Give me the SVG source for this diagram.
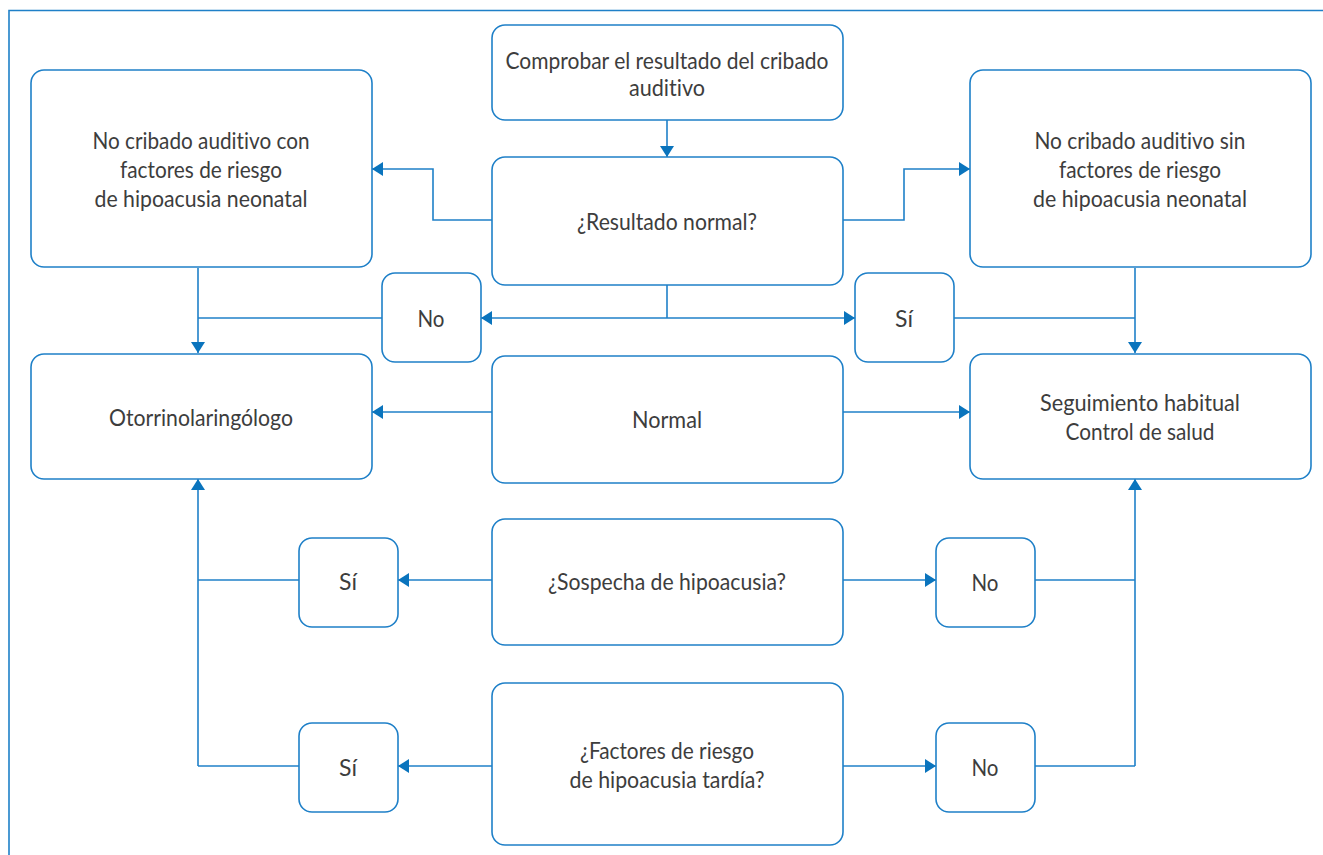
<svg xmlns="http://www.w3.org/2000/svg" width="1323" height="855" viewBox="0 0 1323 855">
<style>
.box{fill:#fff;stroke:#1f80c8;stroke-width:1.6}
.t{font-family:Lato,"Open Sans","Liberation Sans",sans-serif;font-size:23px;font-weight:400;fill:#3d3d3d;text-anchor:middle;font-variant-ligatures:none;font-feature-settings:"liga" 0}
.c{fill:none;stroke:#1f80c8;stroke-width:1.6}
.frame{fill:none;stroke:#1f80c8;stroke-width:1.6}
</style>
<defs>
<marker id="ah" markerUnits="userSpaceOnUse" markerWidth="12" markerHeight="14" viewBox="0 0 12 14" refX="11" refY="7" orient="auto">
<path d="M0,0 L11,7 L0,14 Z" fill="#0a74bd"/>
</marker>
</defs>
<g id="frame"><path class="frame" d="M9,855 V10.5 H1323"/></g>
<g id="connectors">
<path class="c" d="M667,120 V157" marker-end="url(#ah)"/>
<path class="c" d="M492,220 H433 V169 H372" marker-end="url(#ah)"/>
<path class="c" d="M843,220 H904 V169 H970" marker-end="url(#ah)"/>
<path class="c" d="M667,285 V318"/>
<path class="c" d="M667,318 H481" marker-end="url(#ah)"/>
<path class="c" d="M667,318 H855" marker-end="url(#ah)"/>
<path class="c" d="M382,318 H198"/>
<path class="c" d="M198,268 V353" marker-end="url(#ah)"/>
<path class="c" d="M954,318 H1135"/>
<path class="c" d="M1135,268 V353" marker-end="url(#ah)"/>
<path class="c" d="M492,412 H372" marker-end="url(#ah)"/>
<path class="c" d="M843,412 H970" marker-end="url(#ah)"/>
<path class="c" d="M492,580 H398" marker-end="url(#ah)"/>
<path class="c" d="M299,580 H198"/>
<path class="c" d="M198,766 V479" marker-end="url(#ah)"/>
<path class="c" d="M843,580 H936" marker-end="url(#ah)"/>
<path class="c" d="M1035,580 H1135"/>
<path class="c" d="M1135,766 V479" marker-end="url(#ah)"/>
<path class="c" d="M492,766 H398" marker-end="url(#ah)"/>
<path class="c" d="M299,766 H198"/>
<path class="c" d="M843,766 H936" marker-end="url(#ah)"/>
<path class="c" d="M1035,766 H1135"/>
</g>
<g id="n-comprobar"><rect class="box" x="492" y="25" width="351" height="95" rx="13"/>
<text class="t" x="667" y="69" textLength="323" lengthAdjust="spacingAndGlyphs">Comprobar el resultado del cribado</text>
<text class="t" x="667" y="96" textLength="76" lengthAdjust="spacingAndGlyphs">auditivo</text></g>
<g id="n-con"><rect class="box" x="31" y="70" width="341" height="197" rx="13"/>
<text class="t" x="201" y="149" textLength="217" lengthAdjust="spacingAndGlyphs">No cribado auditivo con</text>
<text class="t" x="201" y="178" textLength="162" lengthAdjust="spacingAndGlyphs">factores de riesgo</text>
<text class="t" x="201" y="207" textLength="213" lengthAdjust="spacingAndGlyphs">de hipoacusia neonatal</text></g>
<g id="n-sin"><rect class="box" x="970" y="70" width="341" height="197" rx="13"/>
<text class="t" x="1140" y="149" textLength="211" lengthAdjust="spacingAndGlyphs">No cribado auditivo sin</text>
<text class="t" x="1140" y="178" textLength="162" lengthAdjust="spacingAndGlyphs">factores de riesgo</text>
<text class="t" x="1140" y="207" textLength="214" lengthAdjust="spacingAndGlyphs">de hipoacusia neonatal</text></g>
<g id="n-resultado"><rect class="box" x="492" y="157" width="351" height="128" rx="13"/>
<text class="t" x="667" y="230" textLength="180" lengthAdjust="spacingAndGlyphs">¿Resultado normal?</text></g>
<g id="n-no1"><rect class="box" x="382" y="273" width="99" height="89" rx="13"/>
<text class="t" x="431" y="327" textLength="27" lengthAdjust="spacingAndGlyphs">No</text></g>
<g id="n-si1"><rect class="box" x="855" y="273" width="99" height="89" rx="13"/>
<text class="t" x="904" y="327">Sí</text></g>
<g id="n-otorrino"><rect class="box" x="31" y="354" width="341" height="125" rx="13"/>
<text class="t" x="201" y="426" textLength="184" lengthAdjust="spacingAndGlyphs">Otorrinolaringólogo</text></g>
<g id="n-normal"><rect class="box" x="492" y="356" width="351" height="127" rx="13"/>
<text class="t" x="667" y="428" textLength="70" lengthAdjust="spacingAndGlyphs">Normal</text></g>
<g id="n-seguimiento"><rect class="box" x="970" y="354" width="341" height="125" rx="13"/>
<text class="t" x="1140" y="411" textLength="200" lengthAdjust="spacingAndGlyphs">Seguimiento habitual</text>
<text class="t" x="1140" y="440" textLength="149" lengthAdjust="spacingAndGlyphs">Control de salud</text></g>
<g id="n-sospecha"><rect class="box" x="492" y="519" width="351" height="126" rx="13"/>
<text class="t" x="667" y="590" textLength="238" lengthAdjust="spacingAndGlyphs">¿Sospecha de hipoacusia?</text></g>
<g id="n-si2"><rect class="box" x="299" y="538" width="99" height="89" rx="13"/>
<text class="t" x="348" y="590">Sí</text></g>
<g id="n-no2"><rect class="box" x="936" y="538" width="99" height="89" rx="13"/>
<text class="t" x="985" y="591" textLength="27" lengthAdjust="spacingAndGlyphs">No</text></g>
<g id="n-factores"><rect class="box" x="492" y="683" width="351" height="162" rx="13"/>
<text class="t" x="667" y="759" textLength="174" lengthAdjust="spacingAndGlyphs">¿Factores de riesgo</text>
<text class="t" x="667" y="788" textLength="195" lengthAdjust="spacingAndGlyphs">de hipoacusia tardía?</text></g>
<g id="n-si3"><rect class="box" x="299" y="723" width="99" height="89" rx="13"/>
<text class="t" x="348" y="776">Sí</text></g>
<g id="n-no3"><rect class="box" x="936" y="723" width="99" height="89" rx="13"/>
<text class="t" x="985" y="776" textLength="27" lengthAdjust="spacingAndGlyphs">No</text></g>
</svg>
